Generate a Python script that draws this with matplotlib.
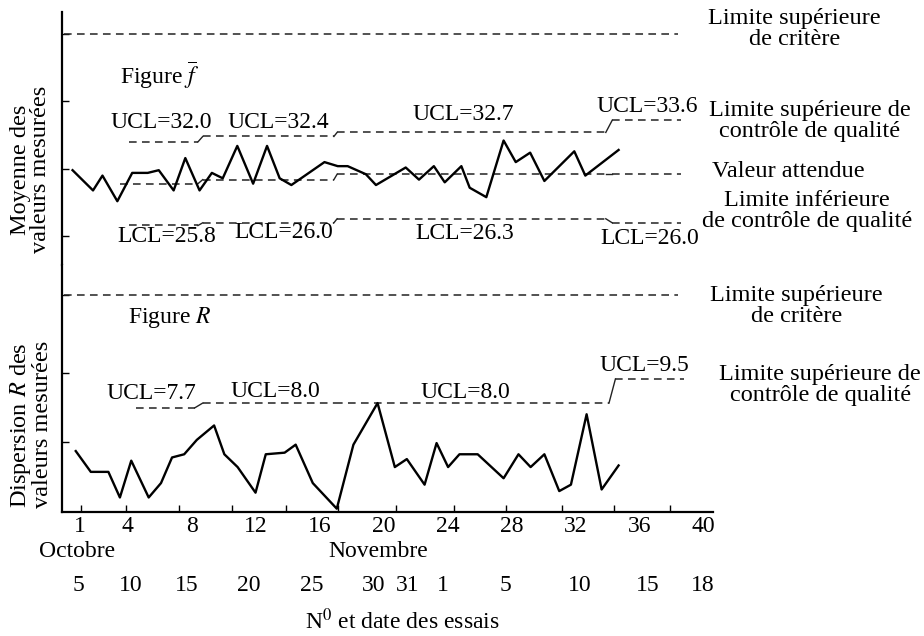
import matplotlib
matplotlib.use("Agg")
import matplotlib.pyplot as plt
from matplotlib.transforms import blended_transform_factory

plt.rcParams['font.family'] = ['Liberation Serif', 'DejaVu Serif']
plt.rcParams['mathtext.fontset'] = 'stix'

# --- values ---
# moyenne (figure f-bar): trial position, value
mean_x = [0.56, 1.84, 2.43, 3.36, 4.29, 5.26, 5.95, 6.88, 7.61, 8.50, 9.27, 9.95,
          10.86, 11.85, 12.72, 13.51, 14.24, 16.31, 17.14, 17.76, 18.9, 19.53,
          21.39, 22.22, 23.15, 23.83, 24.87, 25.39, 26.43, 27.51, 28.27, 29.17,
          30.06, 31.93, 32.62, 34.70]
mean_y = [29.9, 28.4, 29.5, 27.6, 29.7, 29.7, 29.9, 28.4, 30.8, 28.4, 29.7, 29.3,
          31.7, 28.9, 31.7, 29.3, 28.8, 30.5, 30.2, 30.2, 29.6, 28.8,
          30.1, 29.2, 30.2, 29.0, 30.2, 28.6, 27.9, 32.1, 30.5, 31.2,
          29.1, 31.3, 29.5, 31.4]

# dispersion R (figure R)
range_x = [0.76, 1.70, 2.80, 3.52, 4.23, 5.32, 6.09, 6.78, 7.54, 8.33, 9.41, 10.05,
           10.88, 12.00, 12.64, 13.82, 14.51, 15.58, 17.08, 18.12, 19.63, 20.71,
           21.46, 22.57, 23.32, 24.04, 24.75, 25.89, 27.51, 28.44, 29.20, 30.06,
           30.99, 31.72, 32.70, 33.64, 34.70]
range_y = [5.0, 3.7, 3.7, 2.1, 4.4, 2.1, 3.0, 4.6, 4.8, 5.7, 6.6, 4.8,
           4.0, 2.4, 4.8, 4.9, 5.4, 3.0, 1.4, 5.4, 8.0, 4.0,
           4.5, 2.9, 5.5, 4.0, 4.8, 4.8, 3.3, 4.8, 4.0, 4.8,
           2.5, 2.9, 7.3, 2.6, 4.1]

# control limit segments
seg_start = [4.1, 8.7, 17.1, 34.3]
seg_end = [8.4, 16.9, 33.9, 38.6]
ucl_mean = [32.0, 32.4, 32.7, 33.6]
lcl_mean = [25.8, 26.0, 26.3, 26.0]
center_mean = [28.9, 29.2, 29.6, 29.6]
ucl_range = [7.7, 8.0, 8.0, 9.5]
crit_mean = 40.0
crit_range = 14.75
crit_end = 38.4

tick_trials = [1, 4, 8, 12, 16, 20, 24, 28, 32, 36, 40]
date_ticks = [1.07, 3.93, 7.23, 10.53, 13.89, 17.18, 20.79, 24.4, 27.63, 31.17, 34.41, 37.89]
date_labels = ['5', '10', '15', '20', '25', '30', '31', '1', '5', '10', '15', '18']
date_pos = [0.9, 4.2, 7.7, 11.6, 15.5, 19.4, 21.5, 23.7, 27.6, 32.3, 36.5, 39.96]
month_labels = ['Octobre', 'Novembre']
month_pos = [0.84, 19.65]

FS = 17
FS_SIDE = 17.5
DASH = (5, 3.5)
LC = '#222222'

fig = plt.figure(figsize=(9.24, 6.36), dpi=100)
ax_m = fig.add_axes([0.0671, 0.5833, 0.7045, 0.3983])
ax_r = fig.add_axes([0.0671, 0.1954, 0.7045, 0.3879])


def limit_line(ax, values, x0s, x1s, first_x0=None):
    for i, v in enumerate(values):
        start = x0s[i] if (i > 0 or first_x0 is None) else first_x0
        ax.plot([start, x1s[i]], [v, v], color=LC, lw=1.1, dashes=DASH)
        if i + 1 < len(values):
            ax.plot([x1s[i], x0s[i + 1]], [v, values[i + 1]], color=LC, lw=1.0)


for ax in (ax_m, ax_r):
    ax.set_xlim(-0.1, 40.6)
    for s in ('top', 'right'):
        ax.spines[s].set_visible(False)
    ax.spines['left'].set_linewidth(1.6)
    ax.tick_params(axis='y', direction='in', length=5, width=1, labelleft=False)

# ---- top: moyenne ----
ax_m.spines['bottom'].set_visible(False)
ax_m.set_ylim(22.87, 41.65)
ax_m.set_yticks([25, 30, 35, 40])
ax_m.set_xticks([])
ax_m.plot([0, crit_end], [crit_mean, crit_mean], color=LC, lw=1.1, dashes=DASH)
limit_line(ax_m, ucl_mean, seg_start, seg_end)
limit_line(ax_m, lcl_mean, seg_start, seg_end)
limit_line(ax_m, center_mean, seg_start, seg_end, first_x0=3.5)
ax_m.plot(mean_x, mean_y, color='black', lw=1.7)

ax_m.text(3.5, 36.97, r'Figure $\overline{f}$', fontsize=FS, va='center')
for lab, x, y in [('UCL=32.0', 6.09, 33.41), ('UCL=32.4', 13.4, 33.41),
                  ('UCL=32.7', 24.96, 34.0), ('UCL=33.6', 36.5, 34.6),
                  ('LCL=25.8', 6.46, 24.95), ('LCL=26.0', 13.78, 25.25),
                  ('LCL=26.3', 25.09, 25.17), ('LCL=26.0', 36.65, 24.8)]:
    ax_m.text(x, y, lab, fontsize=FS, ha='center', va='center')

right_kw = dict(fontsize=FS_SIDE, ha='center', va='center', linespacing=1.0, clip_on=False)
ax_m.text(45.7, 40.39, 'Limite supérieure\nde critère', **right_kw)
ax_m.text(46.65, 33.56, 'Limite supérieure de\ncontrôle de qualité', **right_kw)
ax_m.text(45.3, 29.77, 'Valeur attendue', **right_kw)
ax_m.text(46.5, 26.88, 'Limite inférieure\nde contrôle de qualité',
          bbox=dict(facecolor='white', edgecolor='none', pad=0.5), **right_kw)

# ---- bottom: dispersion R ----
ax_r.set_ylim(1.21, 16.625)
ax_r.set_yticks([5.56, 9.875, 14.75])
ax_r.spines['bottom'].set_linewidth(1.6)
ax_r.plot([0, crit_end], [crit_range, crit_range], color=LC, lw=1.1, dashes=DASH)
limit_line(ax_r, ucl_range, [4.5, 8.7, 17.0, 34.5], [8.2, 17.0, 34.1, 38.8])
ax_r.plot(range_x, range_y, color='black', lw=1.7)

ax_r.text(4.0, 13.375, 'Figure $\\mathit{R}$', fontsize=FS, va='center')
for lab, x, y in [('UCL=7.7', 5.47, 8.625), ('UCL=8.0', 13.27, 8.75),
                  ('UCL=8.0', 25.09, 8.69), ('UCL=9.5', 36.3, 10.375)]:
    ax_r.text(x, y, lab, fontsize=FS, ha='center', va='center')
ax_r.text(45.8, 14.06, 'Limite supérieure\nde critère', **right_kw)
ax_r.text(47.3, 9.1, 'Limite supérieure de\ncontrôle de qualité', **right_kw)

ax_r.set_xticks(tick_trials)
ax_r.set_xticklabels([str(t) for t in tick_trials], fontsize=FS)
ax_r.tick_params(axis='x', which='major', length=0, pad=3)
ax_r.set_xticks(date_ticks, minor=True)
ax_r.tick_params(axis='x', which='minor', direction='in', length=5, width=1)

tr = blended_transform_factory(ax_r.transData, fig.transFigure)
for lab, x in zip(month_labels, month_pos):
    ax_r.text(x, 0.1336, lab, transform=tr, fontsize=FS, ha='center', va='center')
for lab, x in zip(date_labels, date_pos):
    ax_r.text(x, 0.080, lab, transform=tr, fontsize=FS, ha='center', va='center')
ax_r.text(21.2, 0.0236, 'N$^0$ et date des essais', transform=tr, fontsize=FS,
          ha='center', va='center')

fig.text(0.033, 0.733, 'Moyenne des\nvaleurs mesurées', rotation=90, fontsize=FS_SIDE,
         ha='center', va='center', linespacing=0.95)
fig.text(0.033, 0.332, 'Dispersion $\\mathit{R}$ des\nvaleurs mesurées', rotation=90,
         fontsize=FS_SIDE, ha='center', va='center', linespacing=0.95)

fig.savefig('out.png', dpi=100)
